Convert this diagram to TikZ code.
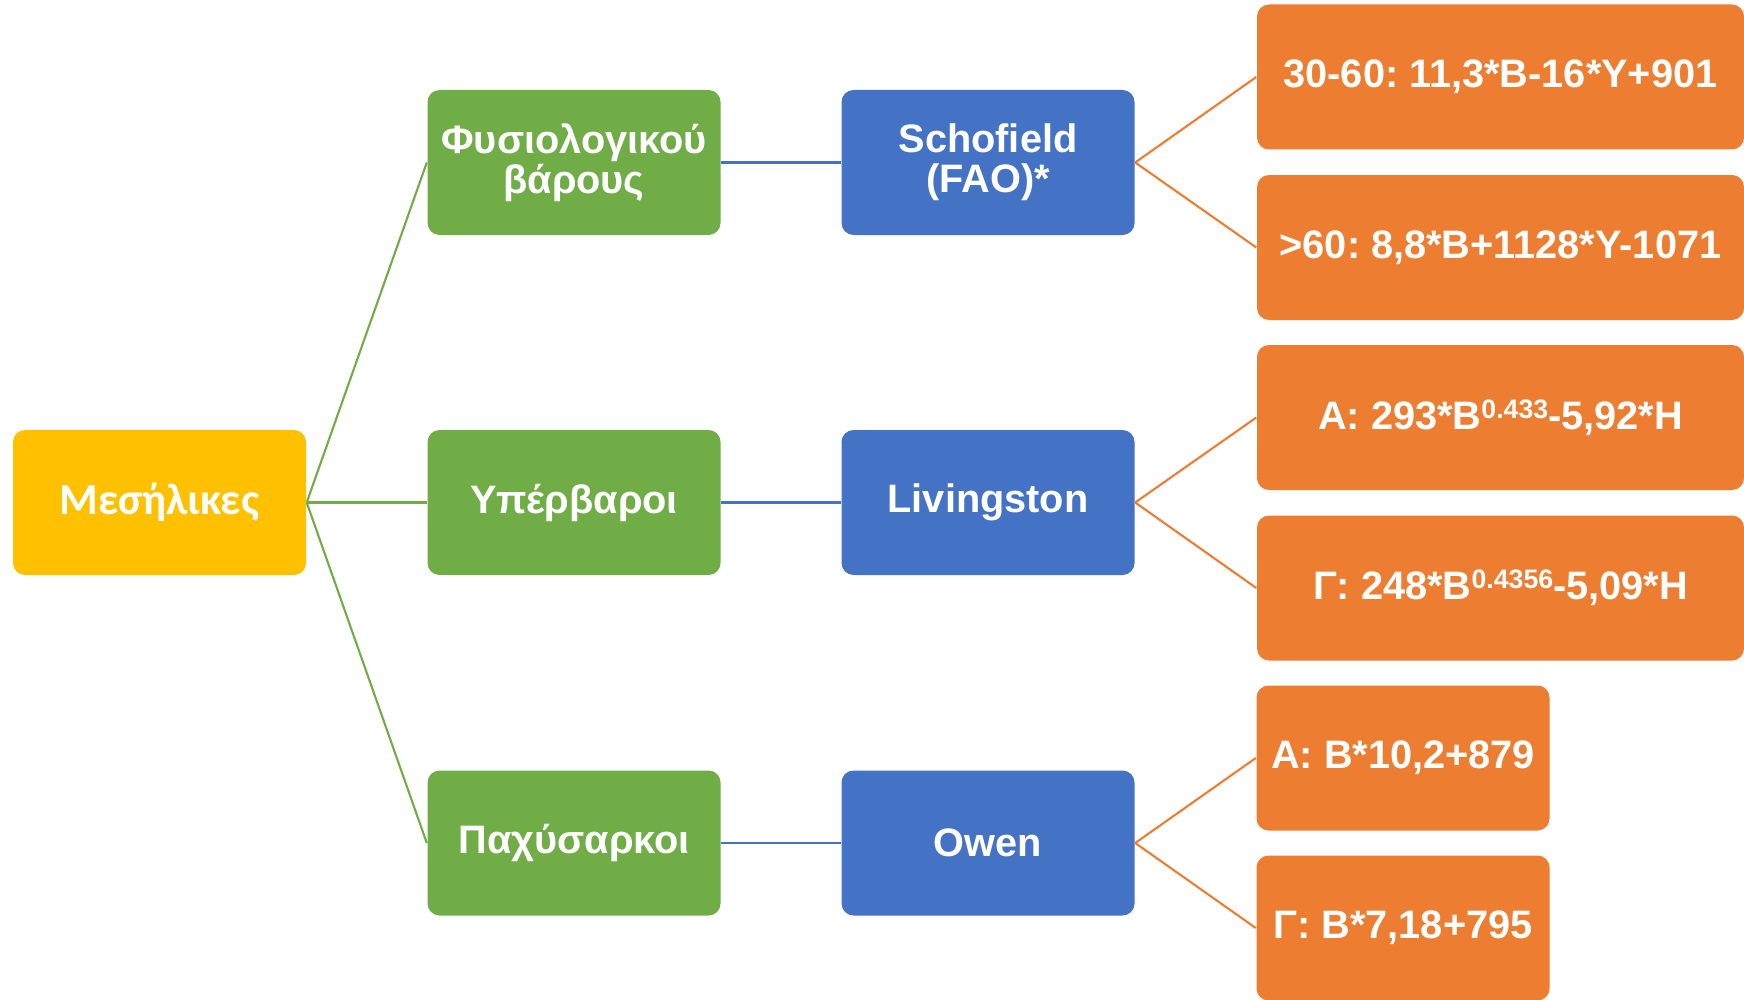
\documentclass[tikz,border=0pt]{standalone}
\usepackage{fontspec}
\setmainfont{Liberation Sans}
\newfontfamily\carlitofont{Carlito}
\frenchspacing
\definecolor{ageyellow}{HTML}{FFC000}
\definecolor{groupgreen}{HTML}{70AD47}
\definecolor{eqblue}{HTML}{4472C4}
\definecolor{formorange}{HTML}{ED7D31}
\newcommand{\expo}[1]{\raisebox{3pt}{\fontsize{7.6}{8}\selectfont #1}}
\begin{document}
\begin{tikzpicture}[
  box/.style={rounded corners=0.12cm, minimum width=2.93cm, minimum height=1.45cm,
    inner sep=0pt, align=center, text=white, font=\fontsize{11.3}{11.4}\selectfont\bfseries},
  agebox/.style={box, fill=ageyellow, font=\carlitofont\fontsize{12.6}{14}\selectfont\bfseries},
  groupbox/.style={box, fill=groupgreen},
  eqbox/.style={box, fill=eqblue},
  formbox/.style={box, fill=formorange},
  widebox/.style={formbox, minimum width=4.87cm},
  greenline/.style={draw=groupgreen, line width=0.6pt},
  blueline/.style={draw=eqblue, line width=0.6pt},
  orangeline/.style={draw=formorange, line width=0.6pt}]
\useasboundingbox (0,0) rectangle (17.44,-9.99);
\node[agebox] (mesilikes) at (1.595,-5.025) {Μεσήλικες};
\node[groupbox] (fysio) at (5.74,-1.625) {Φυσιολογικού\\βάρους};
\node[groupbox] (yperv) at (5.74,-5.025) {Υπέρβαροι};
\node[groupbox] (paxys) at (5.74,-8.43) {Παχύσαρκοι};
\node[eqbox] (schofield) at (9.88,-1.625) {Schofield\\(FAO)*};
\node[eqbox] (livingston) at (9.88,-5.025) {Livingston};
\node[eqbox] (owen) at (9.88,-8.43) {Owen};
\node[widebox] (sch1) at (15.005,-0.77) {30-60: 11,3*B-16*Y+901};
\node[widebox] (sch2) at (15.005,-2.475) {>60: 8,8*B+1128*Y-1071};
\node[widebox] (liv1) at (15.005,-4.175) {A: 293*B\expo{0.433}-5,92*H};
\node[widebox] (liv2) at (15.005,-5.88) {Γ: 248*B\expo{0.4356}-5,09*H};
\node[formbox] (owen1) at (14.03,-7.58) {A: B*10,2+879};
\node[formbox] (owen2) at (14.03,-9.28) {Γ: B*7,18+795};
\draw[greenline] (mesilikes.east) -- (fysio.west);
\draw[greenline] (mesilikes.east) -- (yperv.west);
\draw[greenline] (mesilikes.east) -- (paxys.west);
\draw[blueline] (fysio.east) -- (schofield.west);
\draw[blueline] (yperv.east) -- (livingston.west);
\draw[blueline] (paxys.east) -- (owen.west);
\draw[orangeline] (schofield.east) -- (sch1.west);
\draw[orangeline] (schofield.east) -- (sch2.west);
\draw[orangeline] (livingston.east) -- (liv1.west);
\draw[orangeline] (livingston.east) -- (liv2.west);
\draw[orangeline] (owen.east) -- (owen1.west);
\draw[orangeline] (owen.east) -- (owen2.west);
\end{tikzpicture}
\end{document}
